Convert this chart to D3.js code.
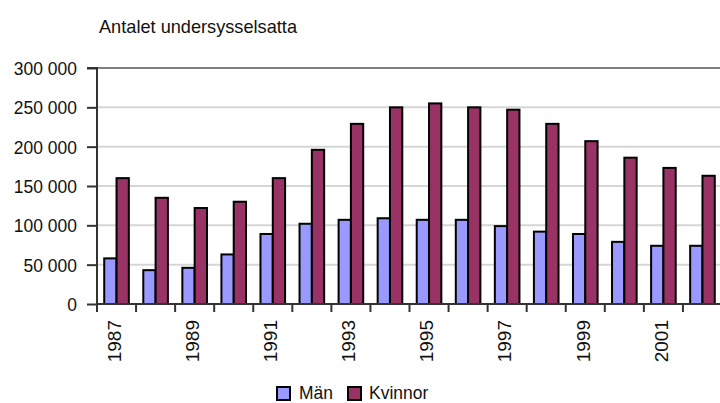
<!DOCTYPE html>
<html>
<head>
<meta charset="utf-8">
<script src="https://cdn.jsdelivr.net/npm/d3@7"></script>
<style>
  html, body { margin: 0; padding: 0; background: #fff; }
  svg { display: block; font-family: "Liberation Sans", Arial, sans-serif; }
</style>
</head>
<body>
<svg id="chart" width="720" height="403"></svg>
<script>
// Underemployed persons by year, men and women
const years = ["1987","1988","1989","1990","1991","1992","1993","1994",
               "1995","1996","1997","1998","1999","2000","2001","2002"];
const man     = [58000, 43000, 46000, 63000, 89000, 102000, 107000, 109000,
                 107000, 107000, 99000, 92000, 89000, 79000, 74000, 74000];
const kvinnor = [160000, 135000, 122000, 130000, 160000, 196000, 229000, 250000,
                 255000, 250000, 247000, 229000, 207000, 186000, 173000, 163000];
const seriesNames = ["Män", "Kvinnor"];
const yTicks = [0, 50000, 100000, 150000, 200000, 250000, 300000];
const xLabelYears = ["1987","1989","1991","1993","1995","1997","1999","2001"];
const title = "Antalet undersysselsatta";

const colors = { "Män": "#9999ff", "Kvinnor": "#993366" };
const rows = years.map((yr, i) => ({ year: yr, values: { "Män": man[i], "Kvinnor": kvinnor[i] } }));

const svg = d3.select("#chart");
const plotL = 97, plotR = 722, plotT = 68, plotB = 304;
const sx = 0.92; // horizontal squeeze of text glyphs
const fmt = v => d3.format(",")(v).replace(/,/g, " ");

const x0 = d3.scaleBand().domain(years).range([plotL, plotR])
  .paddingInner(0.37).paddingOuter(0.185);
const x1 = d3.scaleBand().domain(seriesNames).range([0, x0.bandwidth()]);
const y = d3.scaleLinear().domain([0, 300000]).range([plotB, plotT]);
const step = x0.step();

// gridlines
svg.append("g").selectAll("line").data(yTicks.filter(t => t > 0 && t < 300000)).join("line")
  .attr("x1", plotL).attr("x2", 720).attr("y1", d => y(d)).attr("y2", d => y(d))
  .attr("stroke", "#d6d6d6").attr("stroke-width", 2);
// top border of plot area
svg.append("line").attr("x1", plotL).attr("x2", 720).attr("y1", y(300000)).attr("y2", y(300000))
  .attr("stroke", "#808080").attr("stroke-width", 2);

// bars
const groups = svg.append("g").selectAll("g").data(rows).join("g")
  .attr("transform", d => `translate(${x0(d.year)},0)`);
groups.selectAll("rect").data(d => seriesNames.map(s => ({ s, v: d.values[s] }))).join("rect")
  .attr("x", d => x1(d.s))
  .attr("width", x1.bandwidth())
  .attr("y", d => y(d.v))
  .attr("height", d => y(0) - y(d.v))
  .attr("fill", d => colors[d.s])
  .attr("stroke", "#000").attr("stroke-width", 2);

// y axis
const yAxis = d3.axisLeft(y).tickValues(yTicks).tickSize(10).tickFormat("");
const yg = svg.append("g").attr("transform", `translate(${plotL},0)`).call(yAxis);
yg.select(".domain").attr("stroke", "#333").attr("stroke-width", 2).attr("d", `M-10,${plotT}H0V${plotB}`);
yg.selectAll(".tick line").attr("stroke", "#333").attr("stroke-width", 2);
svg.append("g").selectAll("g").data(yTicks).join("g")
  .attr("transform", d => `translate(77,${y(d)}) scale(${sx},1)`)
  .append("text")
  .attr("text-anchor", "end").attr("dy", "0.36em")
  .attr("font-size", 19).attr("fill", "#111")
  .text(d => fmt(d));

// x axis line and category boundary ticks
const boundaries = d3.range(years.length + 1).map(i => plotL + i * step);
svg.append("line").attr("x1", plotL).attr("x2", 720).attr("y1", plotB).attr("y2", plotB)
  .attr("stroke", "#333").attr("stroke-width", 2);
svg.append("g").selectAll("line").data(boundaries.filter(b => b <= 720)).join("line")
  .attr("x1", d => d).attr("x2", d => d).attr("y1", plotB).attr("y2", plotB + 8)
  .attr("stroke", "#333").attr("stroke-width", 2);

// x labels, rotated
svg.append("g").selectAll("text").data(xLabelYears).join("text")
  .attr("transform", d => `translate(${x0(d) + x0.bandwidth() / 2 - 2},320) rotate(-90) scale(1,${sx})`)
  .attr("text-anchor", "end").attr("dy", "0.36em")
  .attr("font-size", 19).attr("fill", "#111")
  .text(d => d);

// title
svg.append("text").attr("x", 99).attr("y", 32.5)
  .attr("font-size", 18.5).attr("fill", "#111")
  .attr("textLength", 198).attr("lengthAdjust", "spacingAndGlyphs")
  .text(title);

// legend
const legendPos = [{ s: "Män", bx: 277, tx: 299 }, { s: "Kvinnor", bx: 348, tx: 369 }];
const lg = svg.append("g");
lg.selectAll("rect").data(legendPos).join("rect")
  .attr("x", d => d.bx).attr("y", 387).attr("width", 13).attr("height", 13)
  .attr("fill", d => colors[d.s]).attr("stroke", "#000").attr("stroke-width", 2);
lg.selectAll("g").data(legendPos).join("g")
  .attr("transform", d => `translate(${d.tx},399) scale(${sx},1)`)
  .append("text").attr("font-size", 19).attr("fill", "#111")
  .text(d => d.s);
</script>
</body>
</html>
